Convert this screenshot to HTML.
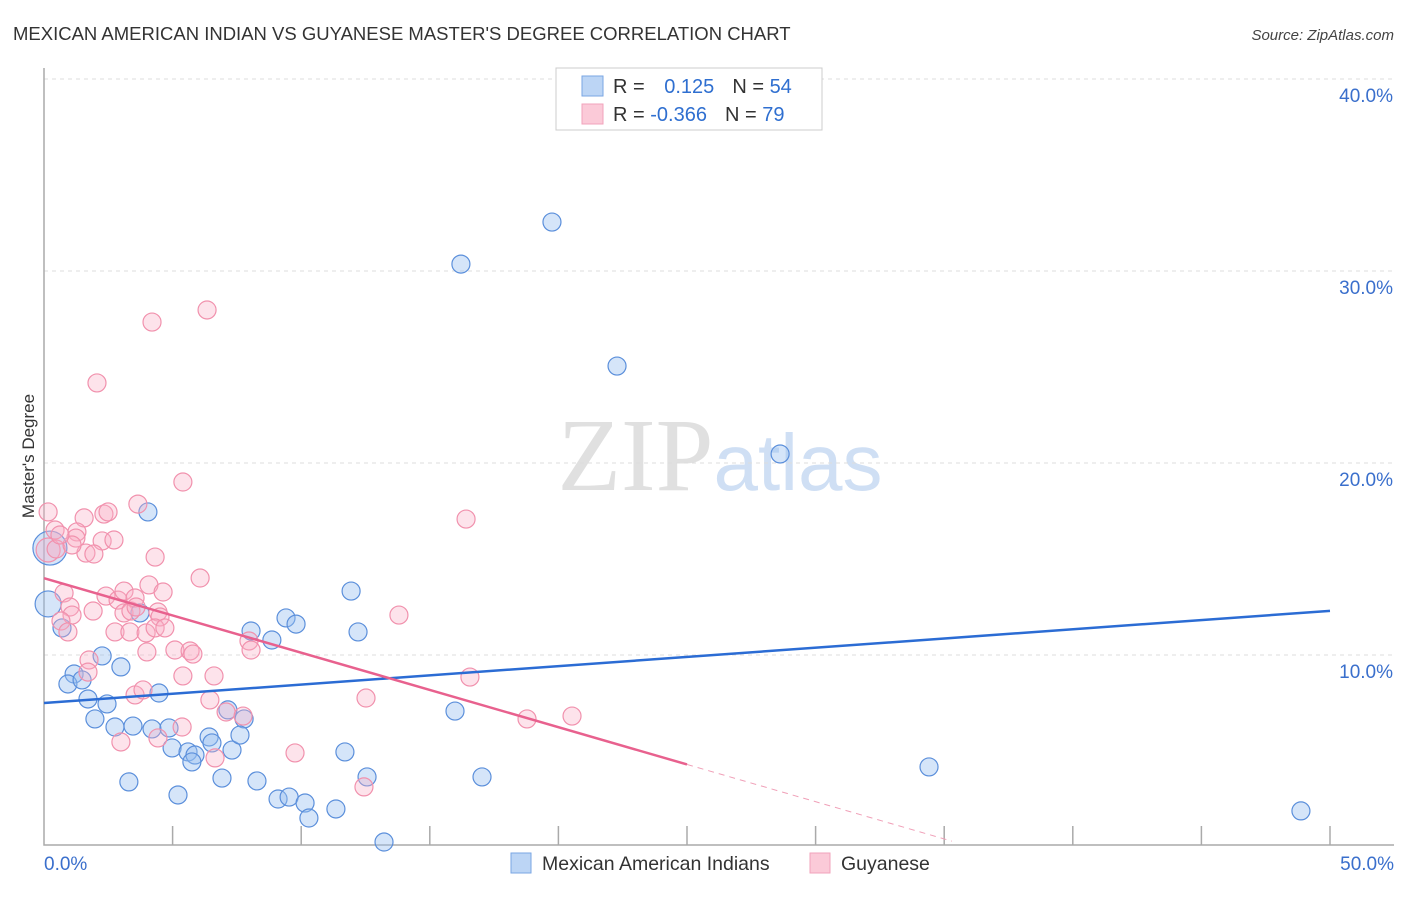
<!DOCTYPE html>
<html><head><meta charset="utf-8"><style>
body{margin:0;background:#fff;font-family:"Liberation Sans",sans-serif;}
svg text{font-family:"Liberation Sans",sans-serif;}
</style></head><body>
<svg id="chart" width="1406" height="892" viewBox="0 0 1406 892" xmlns="http://www.w3.org/2000/svg">
<text x="13" y="40" font-size="18.5" fill="#333">MEXICAN AMERICAN INDIAN VS GUYANESE MASTER'S DEGREE CORRELATION CHART</text>
<text x="1394" y="40" font-size="15" fill="#444" font-style="italic" text-anchor="end">Source: ZipAtlas.com</text>
<text x="720" y="490" font-size="104" text-anchor="middle"><tspan fill="#e0e0e0" font-family="Liberation Serif">ZIP</tspan><tspan fill="#cfdff4" font-size="80">atlas</tspan></text>
<g id="grid"></g>
<g id="axes"></g>
<g id="points"></g>
<g id="trends"></g>
<text transform="translate(34,456) rotate(-90)" font-size="17" fill="#333" text-anchor="middle">Master's Degree</text>
<g>
<rect x="556" y="68" width="266" height="62" fill="#fff" stroke="#ccc"/>
<rect x="582" y="76" width="21" height="20" fill="#bcd5f5" stroke="#7aa6e3"/>
<rect x="582" y="104" width="21" height="20" fill="#fbcad8" stroke="#f2a3bb"/>
<text x="613" y="93" font-size="20" fill="#333">R = <tspan fill="#2f6fd0" dx="14">0.125</tspan><tspan dx="18" fill="#333">N = </tspan><tspan fill="#2f6fd0">54</tspan></text>
<text x="613" y="121" font-size="20" fill="#333">R = <tspan fill="#2f6fd0">-0.366</tspan><tspan dx="18" fill="#333">N = </tspan><tspan fill="#2f6fd0">79</tspan></text>
</g>
<g>
<rect x="511" y="853" width="20" height="20" fill="#bcd5f5" stroke="#7aa6e3"/>
<text x="542" y="870" font-size="19.5" fill="#333">Mexican American Indians</text>
<rect x="810" y="853" width="20" height="20" fill="#fbcad8" stroke="#f2a3bb"/>
<text x="841" y="870" font-size="19.5" fill="#333">Guyanese</text>
</g>
</svg>
<script>
const blueX=[16.21,19.75,22.28,28.62,4.04,11.94,0.16,0.70,3.73,8.05,9.41,9.80,12.21,8.86,2.26,1.17,0.93,1.48,2.99,4.47,1.71,2.45,1.98,2.76,3.46,4.20,4.86,7.15,7.78,6.42,4.98,5.60,5.87,5.75,6.53,7.31,7.62,11.70,15.98,17.03,6.92,8.28,3.30,5.21,9.10,9.53,10.15,10.30,11.35,12.56,13.22,34.41,48.87,0.23];
const blueY=[30.36,32.55,25.05,20.47,17.45,13.33,12.66,11.41,12.19,11.25,11.93,11.61,11.20,10.78,9.95,9.01,8.49,8.70,9.38,8.02,7.71,7.45,6.67,6.25,6.30,6.15,6.20,7.14,6.67,5.73,5.16,4.95,4.79,4.43,5.42,5.05,5.83,4.95,7.08,3.65,3.59,3.44,3.39,2.71,2.50,2.60,2.29,1.51,1.98,3.65,0.26,4.17,1.88,15.57];
const blueR=[9,9,9,9,9,9,13,9,9,9,9,9,9,9,9,9,9,9,9,9,9,9,9,9,9,9,9,9,9,9,9,9,9,9,9,9,9,9,9,9,9,9,9,9,9,9,9,9,9,9,9,9,9,17];
const pinkX=[4.20,6.34,2.06,5.40,3.65,16.41,0.16,0.43,1.56,2.33,2.49,1.28,1.24,2.26,2.72,1.63,1.94,4.32,0.16,0.47,1.09,6.07,4.08,4.63,0.78,1.91,2.41,2.88,3.11,3.11,3.38,3.54,3.58,4.43,4.51,1.01,1.09,0.66,0.93,2.76,3.34,3.97,4.32,4.70,4.00,5.09,5.68,5.79,7.97,8.05,13.80,1.75,1.71,5.40,6.61,3.54,3.85,6.45,7.08,7.74,12.52,16.56,18.78,20.53,2.99,4.43,5.37,6.65,9.76,12.44,0.62];
const pinkY=[27.34,27.97,24.17,19.01,17.86,17.08,17.45,16.51,17.14,17.34,17.45,16.41,16.09,15.94,15.99,15.31,15.26,15.10,15.47,15.52,15.73,14.01,13.65,13.28,13.23,12.29,13.07,12.86,13.33,12.19,12.29,12.97,12.50,12.24,11.98,12.50,12.08,11.77,11.20,11.20,11.20,11.15,11.41,11.41,10.16,10.26,10.21,10.05,10.73,10.26,12.08,9.74,9.11,8.91,8.91,7.92,8.18,7.66,7.03,6.82,7.76,8.85,6.67,6.82,5.47,5.68,6.25,4.64,4.90,3.13,16.25];
const yTicks=[10,20,30,40];
const yTickLabels=["10.0%","20.0%","30.0%","40.0%"];
const xTicks=[0,5,10,15,20,25,30,35,40,45,50];
const blueTrend=[7.5,12.3];
const pinkTrend=[14.0,-5.4];
const pinkSolidEnd=25;
const pinkDashEnd=35.3;

const NS="http://www.w3.org/2000/svg";
const xs=v=>44+v/50*1286;
const ys=v=>847-v*19.2;
function mk(tag,attrs,parent){const e=document.createElementNS(NS,tag);for(const k in attrs)e.setAttribute(k,attrs[k]);parent.appendChild(e);return e;}
const grid=document.getElementById('grid'),axes=document.getElementById('axes'),pts=document.getElementById('points'),tr=document.getElementById('trends');
yTicks.forEach((t,i)=>{
 const l=mk('line',{x1:44,x2:1394,y1:ys(t),y2:ys(t),stroke:'#ddd','stroke-dasharray':'4,4'},grid);
 
 
 const tx=mk('text',{x:1393,y:ys(t)+23,'font-size':19,fill:'#3a6fcc','text-anchor':'end'},axes);
 tx.textContent=yTickLabels[i];
 
 
});
const ax=mk('path',{d:'M44,68 V845 H1394',fill:'none',stroke:'#aaa','stroke-width':1.5},axes);


xTicks.forEach(t=>{
 if(t===0)return;
 const l=mk('line',{x1:xs(t),x2:xs(t),y1:826,y2:845,stroke:'#aaa','stroke-width':1.5},axes);
 
 
});
const xl0=mk('text',{x:44,y:870,'font-size':19,fill:'#3a6fcc'},axes);xl0.textContent='0.0%';


const xl1=mk('text',{x:1394,y:870,'font-size':19,fill:'#3a6fcc','text-anchor':'end'},axes);xl1.textContent='50.0%';


blueX.forEach((x,i)=>{
 const c=mk('circle',{cx:xs(x),cy:ys(blueY[i]),r:blueR[i],fill:'rgba(150,190,240,0.4)',stroke:'#5b8fdb','stroke-width':1.2},pts);
 
 
});
pinkX.forEach((x,i)=>{
 const c=mk('circle',{cx:xs(x),cy:ys(pinkY[i]),r:(i===18?12:9),fill:'rgba(248,175,198,0.35)',stroke:'#f191ad','stroke-width':1.2},pts);
 
 
});
const bl=mk('line',{x1:xs(0),y1:ys(blueTrend[0]),x2:xs(50),y2:ys(blueTrend[1]),stroke:'#2b6cd4','stroke-width':2.5},tr);


const pv=x=>pinkTrend[0]+(pinkTrend[1]-pinkTrend[0])*x/50;
const pl=mk('line',{x1:xs(0),y1:ys(pv(0)),x2:xs(pinkSolidEnd),y2:ys(pv(pinkSolidEnd)),stroke:'#e8618e','stroke-width':2.5},tr);


const pd=mk('line',{x1:xs(pinkSolidEnd),y1:ys(pv(pinkSolidEnd)),x2:xs(pinkDashEnd),y2:ys(pv(pinkDashEnd)),stroke:'#f0a0b8','stroke-width':1,'stroke-dasharray':'6,5'},tr);


</script>
</body></html>
